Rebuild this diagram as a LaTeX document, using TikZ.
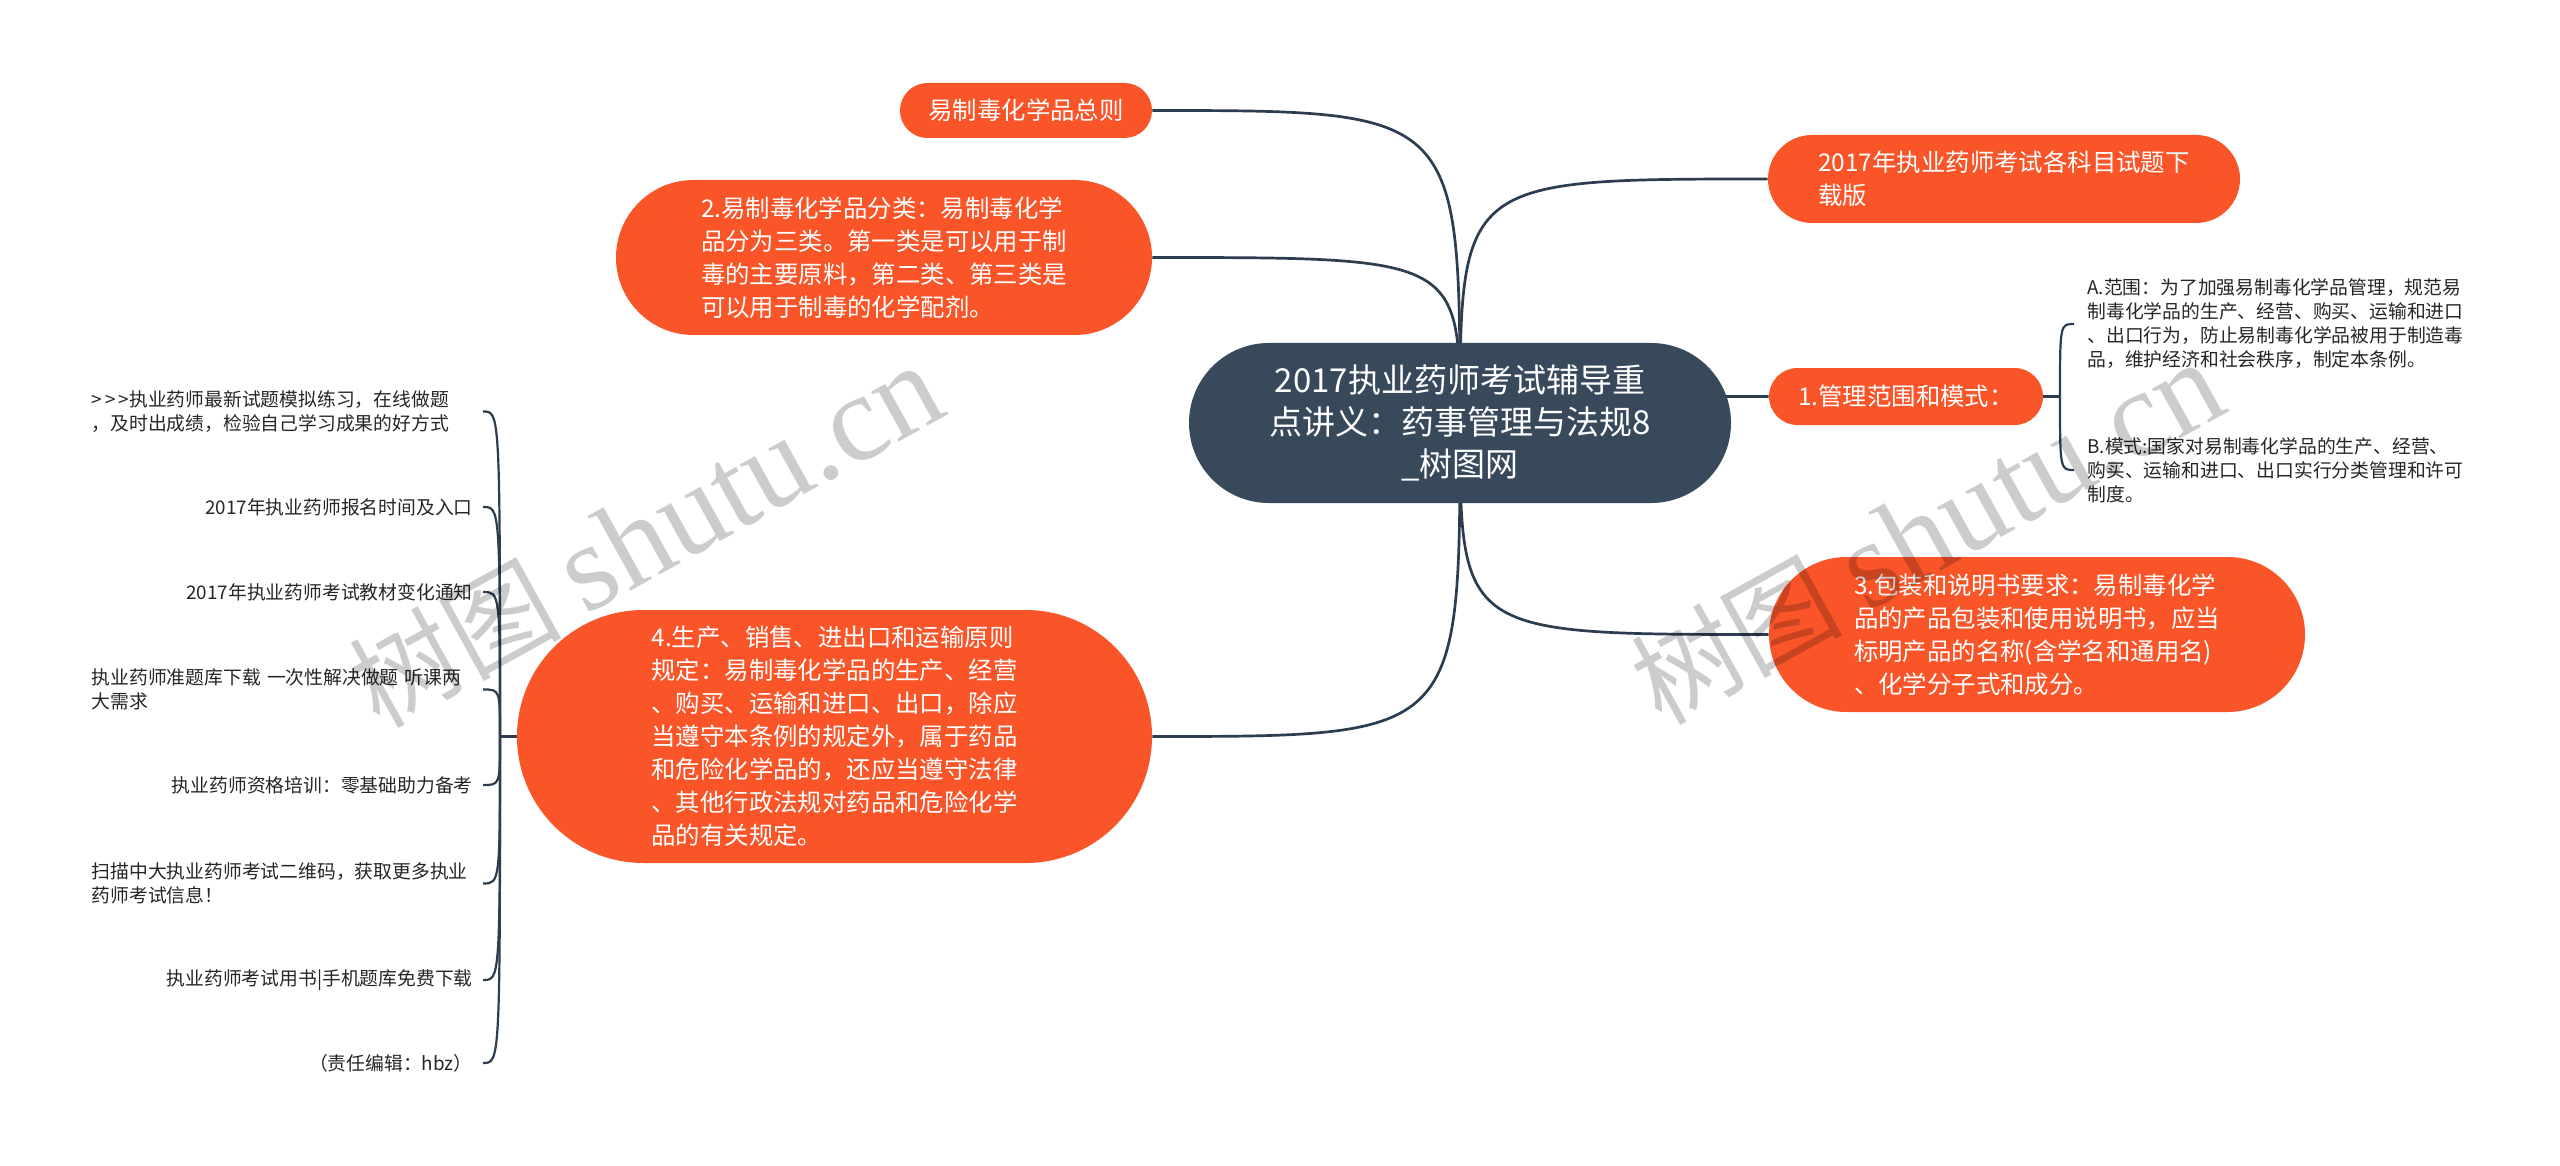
\documentclass[tikz,border=0pt]{standalone}
\usepackage{fontspec}
\setmainfont{Noto Sans CJK SC}
\newfontfamily\wmlatin{Liberation Serif}
\usetikzlibrary{backgrounds}
\definecolor{rootc}{HTML}{37495B}
\definecolor{orangec}{HTML}{FA5429}
\definecolor{linec}{HTML}{2B3D4F}
\definecolor{leafc}{HTML}{262626}
\begin{document}
\begin{tikzpicture}[x=0.5pt,y=-0.5pt,
  mainnode/.style={rectangle, fill=rootc, text=white, rounded corners=40pt,
    minimum width=271pt, minimum height=80pt, align=center, inner sep=0pt,
    font=\fontsize{16.5pt}{21pt}\selectfont},
  subnode/.style={rectangle, fill=orangec, text=white, inner sep=0pt, align=left,
    font=\fontsize{12.2pt}{16.5pt}\selectfont},
  leafnode/.style={inner sep=0pt, text=leafc, font=\fontsize{9.4pt}{12pt}\selectfont},
  multileaf/.style={leafnode, text width=190.5pt, align=left, anchor=east},
  link/.style={draw=linec, line width=1.35pt},
  twig/.style={draw=linec, line width=1.1pt},
  wmark/.style={rotate=29, text=black, text opacity=0.2, inner sep=0pt,
    font=\fontsize{53pt}{60pt}\selectfont}
]
\useasboundingbox (0,0) rectangle (2560,1166);

% root
\node[mainnode] (root) at (1460,423) {2017执业药师考试辅导重\\点讲义：药事管理与法规8\\\_树图网};

% first-level nodes
\node[subnode, minimum width=126pt, minimum height=27.5pt, rounded corners=13.75pt] (n0) at (1026,110.5) {易制毒化学品总则};
\node[subnode, minimum width=268pt, minimum height=77.5pt, rounded corners=38.75pt] (n2) at (884,257.5)
  {2.易制毒化学品分类：易制毒化学\\品分为三类。第一类是可以用于制\\毒的主要原料，第二类、第三类是\\可以用于制毒的化学配剂。};
\node[subnode, minimum width=317.5pt, minimum height=126.5pt, rounded corners=63.25pt] (n4) at (834.5,736.5)
  {4.生产、销售、进出口和运输原则\\规定：易制毒化学品的生产、经营\\、购买、运输和进口、出口，除应\\当遵守本条例的规定外，属于药品\\和危险化学品的，还应当遵守法律\\、其他行政法规对药品和危险化学\\品的有关规定。};
\node[subnode, minimum width=236pt, minimum height=44pt, rounded corners=22pt] (rt) at (2004,179)
  {2017年执业药师考试各科目试题下\\载版};
\node[subnode, minimum width=137pt, minimum height=28.5pt, rounded corners=14.25pt] (n1) at (1906,396.5) {1.管理范围和模式：};
\node[subnode, minimum width=268pt, minimum height=77.5pt, rounded corners=38.75pt] (n3) at (2037,634.5)
  {3.包装和说明书要求：易制毒化学\\品的产品包装和使用说明书，应当\\标明产品的名称(含学名和通用名)\\、化学分子式和成分。};

% children of node 1
\node[leafnode, anchor=west, align=left] (la) at (2087,324)
  {A.范围：为了加强易制毒化学品管理，规范易\\制毒化学品的生产、经营、购买、运输和进口\\、出口行为，防止易制毒化学品被用于制造毒\\品，维护经济和社会秩序，制定本条例。};
\node[leafnode, anchor=west, align=left] (lb) at (2087,470)
  {B.模式:国家对易制毒化学品的生产、经营、\\购买、运输和进口、出口实行分类管理和许可\\制度。};

% children of node 4
\node[multileaf] (l1) at (473,411.5) {>\kern1.6pt>\kern1.6pt>执业药师最新试题模拟练习，在线做题\\，及时出成绩，检验自己学习成果的好方式};
\node[leafnode, anchor=east] (l2) at (473,507) {2017年执业药师报名时间及入口};
\node[leafnode, anchor=east] (l3) at (473,592) {2017年执业药师考试教材变化通知};
\node[multileaf] (l4) at (473,689.5) {执业药师准题库下载 一次性解决做题 听课两\\大需求};
\node[leafnode, anchor=east] (l5) at (473,785) {执业药师资格培训：零基础助力备考};
\node[multileaf] (l6) at (473,883.5) {扫描中大执业药师考试二维码，获取更多执业\\药师考试信息！};
\node[leafnode, anchor=east] (l7) at (473,980) {执业药师考试用书|手机题库免费下载};
\node[leafnode, anchor=east] (l8) at (473,1063) {（责任编辑：hbz）};

\coordinate (T4) at (500,736.5);
\coordinate (T1) at (2060,396.5);

\begin{scope}[on background layer]
\fill[white] (0,0) rectangle (2560,1166);
\draw[link] (n0.east) .. controls (root.center |- n0.east) .. (root.center);
\draw[link] (n2.east) .. controls (root.center |- n2.east) .. (root.center);
\draw[link] (n4.east) .. controls (root.center |- n4.east) .. (root.center);
\draw[link] (rt.west) .. controls (root.center |- rt.west) .. (root.center);
\draw[link] (n1.west) .. controls (root.center |- n1.west) .. (root.center);
\draw[link] (n3.west) .. controls (root.center |- n3.west) .. (root.center);
\draw[twig] (n4.west) -- (T4);
\foreach \l in {l1,l2,l3,l4,l5,l6,l7,l8}
  \draw[twig] (T4) .. controls (T4 |- \l.east) .. ([xshift=5pt]\l.east);
\draw[twig] (n1.east) -- (T1);
\draw[twig] (T1) .. controls (T1 |- la.west) .. ([xshift=-6.5pt]la.west);
\draw[twig] (T1) .. controls (T1 |- lb.west) .. ([xshift=-6.5pt]lb.west);
\end{scope}

% watermarks
\node[wmark] (wm1) at (645.5,536.5) {树图 {\wmlatin\fontsize{62pt}{60pt}\selectfont shutu.cn}};
\node[wmark] (wm2) at (1927,533) {树图 {\wmlatin\fontsize{62pt}{60pt}\selectfont shutu.cn}};
\end{tikzpicture}
\end{document}
